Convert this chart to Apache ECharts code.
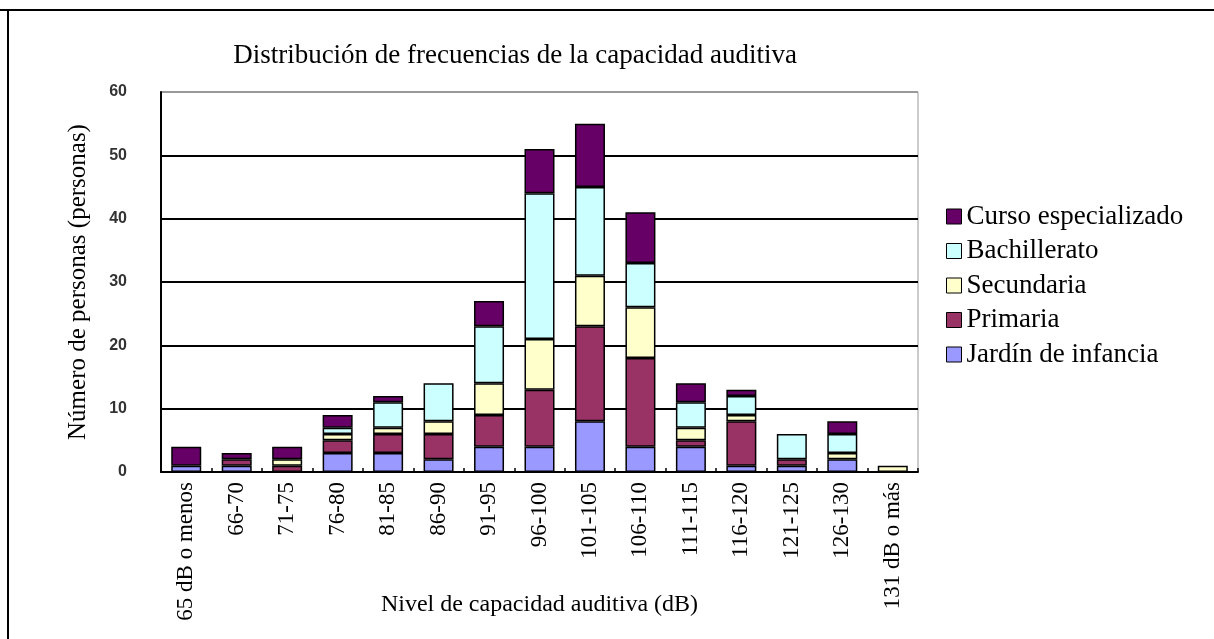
<!DOCTYPE html>
<html>
<head>
<meta charset="utf-8">
<script src="https://cdn.jsdelivr.net/npm/echarts@6/dist/echarts.min.js"></script>
<style>
html,body{margin:0;padding:0;background:#fff;}
#chart{width:1214px;height:639px;}
</style>
</head>
<body>
<div id="chart"></div>
<script>
const categories = ['65 dB o menos','66-70','71-75','76-80','81-85','86-90','91-95','96-100','101-105','106-110','111-115','116-120','121-125','126-130','131 dB o más'];
const jardin = [1,1,0,3,3,2,4,4,8,4,4,1,1,2,0];
const primaria = [0,1,1,2,3,4,5,9,15,14,1,7,1,0,0];
const secundaria = [0,0,1,1,1,2,5,8,8,8,2,1,0,1,1];
const bachillerato = [0,0,0,1,4,6,9,23,14,7,4,3,4,3,0];
const curso = [3,1,2,2,1,0,4,7,10,8,3,1,0,2,0];
const yTicks = [0,10,20,30,40,50,60];

const serif = '"Liberation Serif","DejaVu Serif",serif';
const nz = a => a.map(v => v === 0 ? null : v);

function ser(name, data, color){
  return {
    name, type:'bar', stack:'total', data: nz(data), barWidth:30,
    itemStyle:{color, borderColor:'#000', borderWidth:1.5},
    emphasis:{disabled:true}
  };
}

const chart = echarts.init(document.getElementById('chart'));
chart.setOption({
  animation:false,
  backgroundColor:'#fff',
  title:{
    text:'Distribución de frecuencias de la capacidad auditiva',
    left:510, top:37, textAlign:'center',
    textStyle:{fontFamily:serif, fontSize:27, fontWeight:'normal', color:'#000'}
  },
  legend:{
    orient:'vertical', left:941, top:198,
    itemWidth:15, itemHeight:15, itemGap:7.5,
    icon:'rect',
    itemStyle:{borderColor:'#000', borderWidth:1},
    textStyle:{fontFamily:serif, fontSize:27, color:'#000'},
    data:['Curso especializado','Bachillerato','Secundaria','Primaria','Jardín de infancia']
  },
  grid:{left:161, right:296, top:92, bottom:167, show:true, borderColor:'#999', borderWidth:1, outerBoundsMode:'none', containLabel:false},
  xAxis:{
    type:'category', data:categories,
    axisLine:{lineStyle:{color:'#000', width:2}},
    axisTick:{show:true, inside:true, length:4, lineStyle:{color:'#000', width:1.5}},
    axisLabel:{rotate:90, margin:10, fontFamily:serif, fontSize:23, color:'#000', interval:0},
    name:'Nivel de capacidad auditiva (dB)', nameLocation:'middle', nameGap:121, nameMoveOverlap:false,
    nameTextStyle:{fontFamily:serif, fontSize:24, color:'#000'}
  },
  yAxis:{
    type:'value', min:0, max:60, interval:10,
    axisLine:{show:true, lineStyle:{color:'#000', width:2}},
    axisTick:{show:false},
    axisLabel:{margin:34, fontFamily:'"Liberation Sans",sans-serif', fontWeight:'bold', fontSize:16, color:'#333',
      formatter: v => yTicks.includes(v) ? String(v) : ''},
    splitLine:{show:true, lineStyle:{color:['#000','#000','#000','#000','#000','#000','#999'], width:2}},
    name:'Número de personas (personas)', nameLocation:'middle', nameGap:70, nameRotate:90, nameMoveOverlap:false,
    nameTextStyle:{fontFamily:serif, fontSize:25, color:'#000'}
  },
  graphic:[
    {type:'line', shape:{x1:0, y1:10, x2:1214, y2:10}, style:{stroke:'#000', lineWidth:2}},
    {type:'line', shape:{x1:8, y1:10, x2:8, y2:639}, style:{stroke:'#000', lineWidth:2}}
  ],
  series:[
    ser('Jardín de infancia', jardin, '#9999FF'),
    ser('Primaria', primaria, '#993366'),
    ser('Secundaria', secundaria, '#FFFFCC'),
    ser('Bachillerato', bachillerato, '#CCFFFF'),
    ser('Curso especializado', curso, '#660066')
  ]
});
</script>
</body>
</html>
